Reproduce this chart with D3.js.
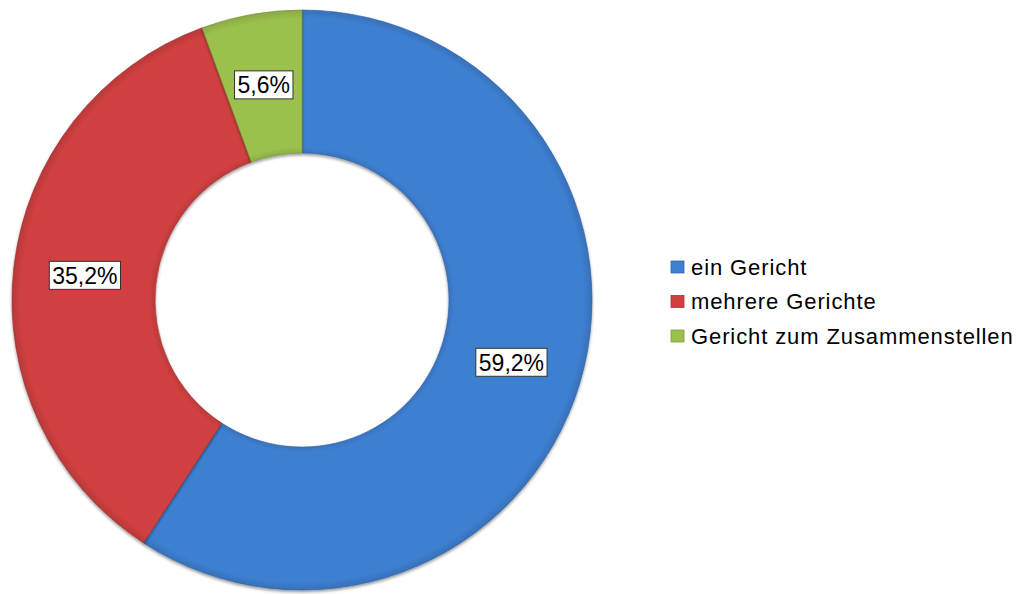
<!DOCTYPE html>
<html>
<head>
<meta charset="utf-8">
<script src="https://cdn.jsdelivr.net/npm/d3@7"></script>
<style>
  body { margin: 0; background: #fff; }
  text { font-family: "Liberation Sans", Arial, sans-serif; }
</style>
</head>
<body>
<script>
// data
var categories = ["ein Gericht", "mehrere Gerichte", "Gericht zum Zusammenstellen"];
var values = [59.2, 35.2, 5.6];
var labels = ["59,2%", "35,2%", "5,6%"];
var colors = ["#3e80d2", "#d0403f", "#9bc04c"];

var width = 1018, height = 594;
var cx = 302, cy = 300, outerR = 290, innerR = 147;

var svg = d3.select("body").append("svg")
  .attr("width", width)
  .attr("height", height);

var defs = svg.append("defs");
var shadow = defs.append("filter").attr("id", "shadow")
  .attr("x", "-10%").attr("y", "-10%").attr("width", "120%").attr("height", "120%");
shadow.append("feGaussianBlur").attr("in", "SourceAlpha").attr("stdDeviation", 1.5);
shadow.append("feOffset").attr("dx", 0).attr("dy", 1.5).attr("result", "b");
shadow.append("feComponentTransfer").append("feFuncA").attr("type", "linear").attr("slope", 0.4);
var merge = shadow.append("feMerge");
merge.append("feMergeNode");
merge.append("feMergeNode").attr("in", "SourceGraphic");

// subtle bevel: radial gradient per colour (coords local to the pie group)
colors.forEach(function (c, i) {
  var g = defs.append("radialGradient").attr("id", "grad" + i)
    .attr("gradientUnits", "userSpaceOnUse")
    .attr("cx", 0).attr("cy", 0).attr("r", outerR);
  var base = d3.color(c);
  g.append("stop").attr("offset", innerR / outerR).attr("stop-color", base.darker(0.3));
  g.append("stop").attr("offset", (innerR + 6) / outerR).attr("stop-color", base);
  g.append("stop").attr("offset", 0.97).attr("stop-color", base);
  g.append("stop").attr("offset", 1).attr("stop-color", base.darker(0.35));
});

var pie = d3.pie().sort(null).value(function (d) { return d; });
var arc = d3.arc().innerRadius(innerR).outerRadius(outerR);

var g = svg.append("g").attr("transform", "translate(" + cx + "," + cy + ")");

var arcs = pie(values);

g.selectAll("path.slice")
  .data(arcs)
  .enter().append("path")
  .attr("class", "slice")
  .attr("d", arc)
  .attr("fill", function (d, i) { return "url(#grad" + i + ")"; })
  .attr("stroke", function (d, i) { return d3.color(colors[i]).darker(0.8); })
  .attr("stroke-width", 0.6)
  .attr("filter", "url(#shadow)");

// data labels with white boxes
var lab = g.selectAll("g.lab")
  .data(arcs)
  .enter().append("g")
  .attr("class", "lab")
  .attr("transform", function (d) { return "translate(" + arc.centroid(d) + ")"; });

lab.append("text")
  .attr("text-anchor", "middle")
  .attr("dy", "0.36em")
  .style("font-size", "23px")
  .attr("fill", "#000")
  .text(function (d, i) { return labels[i]; });

lab.each(function () {
  var t = d3.select(this).select("text");
  var bb = t.node().getBBox();
  d3.select(this).insert("rect", "text")
    .attr("x", bb.x - 3)
    .attr("y", -14)
    .attr("width", bb.width + 6)
    .attr("height", 28)
    .attr("fill", "#fff")
    .attr("stroke", "#333")
    .attr("stroke-width", 1);
});

// legend
var legend = svg.append("g").attr("transform", "translate(671,267)");
var item = legend.selectAll("g")
  .data(categories)
  .enter().append("g")
  .attr("transform", function (d, i) { return "translate(0," + (i * 34.5) + ")"; });

item.append("rect")
  .attr("x", 0).attr("y", -6)
  .attr("width", 13).attr("height", 12)
  .attr("fill", function (d, i) { return colors[i]; })
  .attr("stroke", function (d, i) { return d3.color(colors[i]).darker(0.6); })
  .attr("stroke-width", 0.8);

item.append("text")
  .attr("x", 20)
  .attr("dy", "0.36em")
  .style("font-size", "22px")
  .style("letter-spacing", "0.9px")
  .attr("fill", "#000")
  .text(function (d) { return d; });
</script>
</body>
</html>
